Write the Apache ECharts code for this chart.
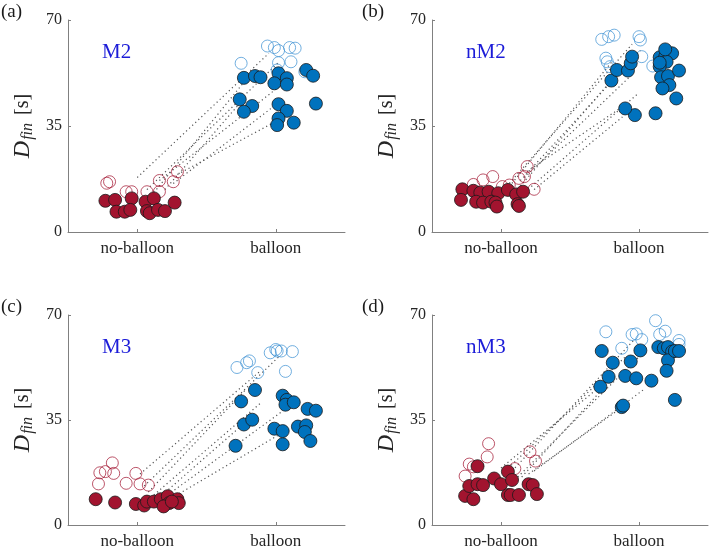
<!DOCTYPE html>
<html>
<head>
<meta charset="utf-8">
<title>Dfin</title>
<script src="https://cdn.jsdelivr.net/npm/echarts@6/dist/echarts.min.js"></script>
<style>
    html, body { margin: 0; padding: 0; background: #fff; }
    #chart { width: 710px; height: 550px; }
</style>
</head>
<body>
<div id="chart"></div>
<script>
// categories on the x axis (positions 1 and 2)
var categories = ['no-balloon', 'balloon'];
var yTicks = [0, 35, 70];
var panelLabels = ['(a)', '(b)', '(c)', '(d)'];
var panelNames = ['M2', 'nM2', 'M3', 'nM3'];

// (a) M2
var aRedFilled = [[0.77,10.3],[0.84,10.6],[0.85,6.7],[0.91,6.7],[0.96,11.1],[0.95,7.3],[1.06,10.0],[1.07,6.9],[1.12,11.1],[1.09,6.2],[1.15,7.3],[1.20,6.9],[1.27,9.7]];
var aRedOpen = [[0.78,16.1],[0.80,16.6],[0.92,13.3],[0.96,13.3],[1.07,13.3],[1.16,17.0],[1.16,13.3],[1.26,16.6],[1.29,19.9]];
var aBlueFilled = [[1.77,50.9],[1.85,51.5],[1.89,51.1],[2.02,52.4],[2.08,50.8],[1.99,49.1],[2.08,48.7],[2.22,53.5],[2.27,51.6],[1.74,43.8],[1.83,41.6],[1.77,39.7],[2.02,42.2],[2.08,40.0],[2.29,42.4],[2.02,37.5],[2.13,36.1],[2.01,35.3]];
var aBlueOpen = [[1.94,61.4],[1.99,60.9],[2.02,59.9],[2.10,60.9],[2.14,60.7],[1.75,55.7],[2.02,55.9],[2.11,56.2],[2.01,53.5],[2.21,52.9]];
var aLinks = [[1.00,18,1.95,59],[1.07,14,2.02,56],[1.12,13,1.78,50],[1.16,17,2.08,50],[1.20,14,1.75,43],[1.26,16,2.00,42],[1.29,19,2.02,37]];

// (b) nM2
var bRedFilled = [[0.72,14.1],[0.80,13.6],[0.85,13.0],[0.91,13.3],[0.98,12.8],[1.05,13.9],[1.11,12.4],[1.16,13.3],[0.71,10.6],[0.82,10.0],[0.87,9.7],[0.93,10.0],[0.96,9.7],[0.97,8.4],[1.12,9.2],[1.13,8.6]];
var bRedOpen = [[0.80,15.7],[0.87,17.2],[0.94,18.3],[1.01,15.0],[1.06,15.5],[1.13,17.7],[1.17,18.3],[1.19,21.6],[1.24,14.1]];
var bBlueFilled = [[1.80,50.0],[1.84,53.5],[1.92,53.3],[1.94,55.7],[1.95,57.9],[1.97,38.6],[1.90,40.8],[2.12,39.2],[2.15,57.7],[2.19,57.9],[2.24,59.0],[2.20,56.2],[2.15,54.6],[2.16,51.1],[2.21,51.5],[2.22,48.5],[2.17,47.4],[2.27,44.1],[2.29,53.3],[2.19,60.3],[2.15,55.9]];
var bBlueOpen = [[1.73,63.6],[1.78,64.5],[1.82,65.0],[2.00,64.5],[2.01,63.4],[1.76,57.4],[1.77,56.2],[1.79,54.6],[2.02,57.9],[2.10,54.8]];
var bLinks = [[1.02,14,1.95,62],[1.06,15,1.80,56],[1.10,13,1.93,57],[1.14,17,2.01,60],[1.17,18,1.95,52],[1.19,20,1.90,42],[1.22,15,2.00,46],[1.24,14,1.88,38]];

// (c) M3
var cRedFilled = [[0.70,8.6],[0.84,7.5],[0.99,7.0],[1.05,6.5],[1.07,7.8],[1.12,7.8],[1.17,8.6],[1.22,9.6],[1.23,7.3],[1.19,6.2],[1.29,8.6],[1.30,7.3],[1.25,7.8]];
var cRedOpen = [[0.73,17.4],[0.77,17.8],[0.82,20.7],[0.83,17.2],[0.72,13.7],[0.92,13.9],[0.99,17.2],[1.02,13.7],[1.08,13.3]];
var cBlueFilled = [[1.71,26.4],[1.77,33.5],[1.83,35.1],[1.75,41.2],[1.85,45.0],[1.99,32.1],[2.05,31.3],[2.05,26.9],[2.05,43.1],[2.08,41.7],[2.07,40.1],[2.13,40.9],[2.16,32.8],[2.22,33.2],[2.21,31.0],[2.25,28.0],[2.23,38.7],[2.29,38.1]];
var cBlueOpen = [[1.72,52.5],[1.79,54.1],[1.81,54.7],[1.87,50.8],[1.96,57.4],[2.00,58.5],[2.01,58.0],[2.04,58.0],[2.12,57.8],[2.07,51.2]];
var cLinks = [[1.02,17,1.88,51],[1.05,13,2.02,56],[1.08,11,1.78,45],[1.12,10,1.90,41],[1.18,10,1.75,33],[1.22,10,2.05,38],[1.25,9,2.02,30]];

// (d) nM3
var dRedFilled = [[0.74,9.7],[0.80,8.6],[0.77,13.0],[0.83,13.6],[0.87,13.3],[0.83,19.6],[0.95,15.5],[1.00,13.6],[1.05,17.8],[1.08,15.0],[1.05,10.0],[1.07,10.0],[1.13,10.0],[1.20,13.6],[1.23,13.3],[1.26,10.3]];
var dRedOpen = [[0.74,16.3],[0.77,20.3],[0.80,19.4],[0.90,22.7],[0.91,27.1],[1.10,18.8],[1.21,24.4],[1.25,21.3]];
var dBlueFilled = [[1.72,46.1],[1.73,58.0],[1.78,49.4],[1.81,54.1],[1.875,39.3],[1.885,39.8],[1.90,49.7],[1.94,54.5],[1.98,48.9],[2.01,58.2],[2.09,48.1],[2.14,59.3],[2.18,58.9],[2.21,59.3],[2.24,57.8],[2.21,54.9],[2.20,51.4],[2.26,41.7],[2.26,58.0],[2.29,58.0]];
var dBlueOpen = [[1.76,64.4],[1.875,58.9],[1.95,63.5],[1.98,63.7],[2.02,61.8],[2.12,68.1],[2.15,63.5],[2.19,64.6],[2.29,61.5],[2.29,60.2]];
var dLinks = [[1.00,19,1.82,50],[1.03,18,1.90,56],[1.06,17,1.97,62],[1.10,15,2.02,57],[1.15,16,1.75,46],[1.20,17,1.90,40],[1.24,18,2.03,45]];

var panels = [
    {red: aRedFilled, redOpen: aRedOpen, blue: aBlueFilled, blueOpen: aBlueOpen, links: aLinks},
    {red: bRedFilled, redOpen: bRedOpen, blue: bBlueFilled, blueOpen: bBlueOpen, links: bLinks},
    {red: cRedFilled, redOpen: cRedOpen, blue: cBlueFilled, blueOpen: cBlueOpen, links: cLinks},
    {red: dRedFilled, redOpen: dRedOpen, blue: dBlueFilled, blueOpen: dBlueOpen, links: dLinks}
];

var serif = 'Liberation Serif';
var red = '#a2142f';
var blue = '#0072bd';
var blueLight = '#3a8fd2';
var axisGray = '#808080';
var textCol = '#262626';

// grid boxes: left, top, width, height
var boxes = [[68, 20, 277, 212], [432, 20, 276, 212], [68, 315, 277, 212], [432, 315, 276, 212]];

var grids = [], xAxes = [], yAxes = [], series = [], titles = [];

boxes.forEach(function (b, i) {
    grids.push({left: b[0], top: b[1], width: b[2], height: b[3]});
    xAxes.push({
        type: 'value', gridIndex: i, min: 0.5, max: 2.5,
        splitLine: {show: false},
        axisLine: {lineStyle: {color: axisGray, width: 1}},
        axisTick: {inside: true, length: 3, customValues: [1, 2], lineStyle: {color: axisGray}},
        axisLabel: {
            customValues: [1, 2], margin: 8,
            fontFamily: serif, fontSize: 17, color: textCol,
            formatter: function (v) { return categories[Math.round(v) - 1]; }
        }
    });
    yAxes.push({
        type: 'value', gridIndex: i, min: yTicks[0], max: yTicks[2], interval: 35,
        splitLine: {show: false},
        axisLine: {show: true, lineStyle: {color: axisGray, width: 1}},
        axisTick: {show: true, inside: true, length: 3, lineStyle: {color: axisGray}},
        axisLabel: {fontFamily: serif, fontSize: 16, color: textCol, margin: 6},
        name: '{d|D}{s|fin}{b|[s]}',
        nameLocation: 'middle', nameRotate: 90, nameGap: 32,
        nameTextStyle: {
            color: textCol, fontFamily: serif,
            rich: {
                d: {fontFamily: serif, fontStyle: 'italic', fontSize: 24, color: textCol},
                s: {fontFamily: serif, fontStyle: 'italic', fontSize: 16, color: textCol, padding: [11, 0, 0, 1]},
                b: {fontFamily: serif, fontSize: 20, color: textCol, padding: [0, 0, 0, 8]}
            }
        }
    });

    var p = panels[i];
    series.push({
        type: 'lines', coordinateSystem: 'cartesian2d', xAxisIndex: i, yAxisIndex: i,
        silent: true, z: 1,
        lineStyle: {color: '#555555', width: 1.2, type: [1.2, 3], opacity: 1},
        data: p.links.map(function (l) { return {coords: [[l[0], l[1]], [l[2], l[3]]]}; })
    });
    series.push({
        type: 'scatter', xAxisIndex: i, yAxisIndex: i, symbolSize: 12, z: 2,
        itemStyle: {color: 'rgba(0,0,0,0)', borderColor: red, borderWidth: 0.9},
        data: p.redOpen
    });
    series.push({
        type: 'scatter', xAxisIndex: i, yAxisIndex: i, symbolSize: 12, z: 2,
        itemStyle: {color: 'rgba(0,0,0,0)', borderColor: blueLight, borderWidth: 0.9},
        data: p.blueOpen
    });
    series.push({
        type: 'scatter', xAxisIndex: i, yAxisIndex: i, symbolSize: 13, z: 3,
        itemStyle: {color: red, borderColor: '#1a1a1a', borderWidth: 0.8, opacity: 1},
        data: p.red
    });
    series.push({
        type: 'scatter', xAxisIndex: i, yAxisIndex: i, symbolSize: 13, z: 3,
        itemStyle: {color: blue, borderColor: '#1a1a1a', borderWidth: 0.8, opacity: 1},
        data: p.blue
    });

    var lx = (i % 2 === 0) ? 1 : 362;
    titles.push({
        text: panelLabels[i], left: lx, top: b[1] - 17, padding: 0,
        textStyle: {fontFamily: serif, fontSize: 19, fontWeight: 'normal', color: '#1a1a1a'}
    });
    titles.push({
        text: panelNames[i], left: b[0] + 34, top: b[1] + 22, padding: 0,
        textStyle: {fontFamily: serif, fontSize: 21, fontWeight: 'normal', color: '#1c1cd8'}
    });
});

var chart = echarts.init(document.getElementById('chart'));
chart.setOption({
    animation: false,
    backgroundColor: '#fff',
    title: titles,
    grid: grids,
    xAxis: xAxes,
    yAxis: yAxes,
    series: series
});
</script>
</body>
</html>
